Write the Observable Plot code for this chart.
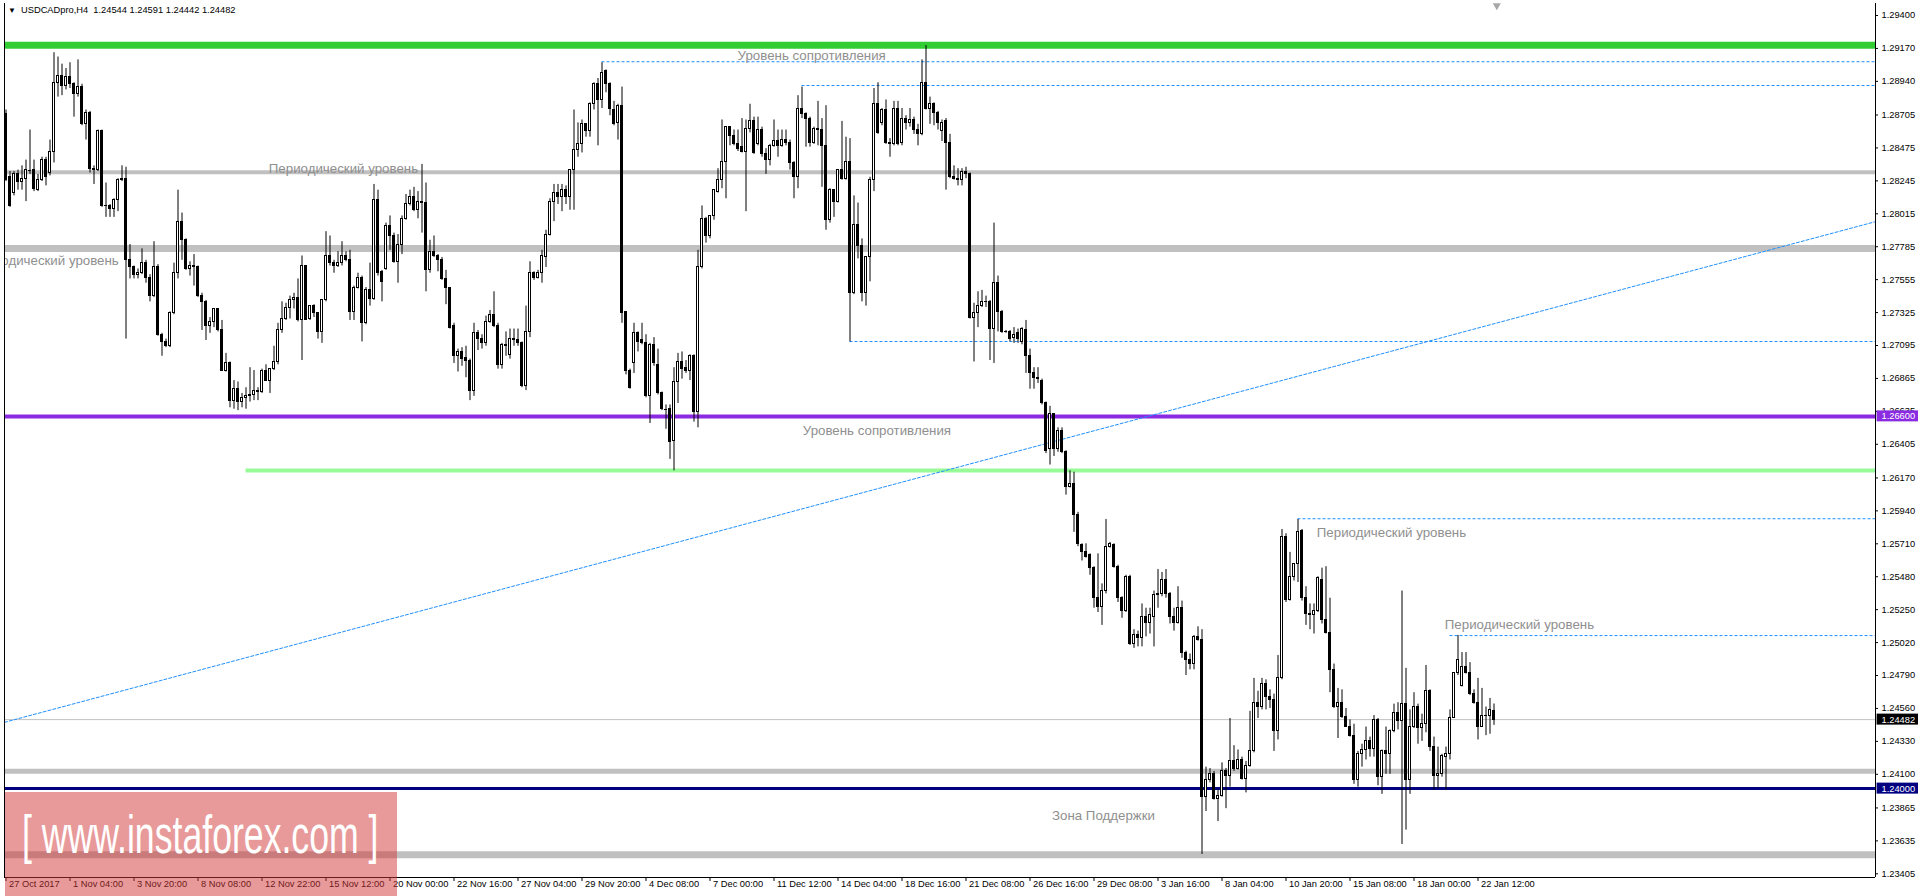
<!DOCTYPE html>
<html><head><meta charset="utf-8">
<script src="https://cdn.jsdelivr.net/npm/d3@7"></script>
<script src="https://cdn.jsdelivr.net/npm/@observablehq/plot@0.6"></script>
<style>
html,body{margin:0;padding:0;background:#fff;overflow:hidden;}
#wrap{position:relative;width:1920px;height:896px;}
#chart svg{display:block;}
#hdr{position:absolute;left:8px;top:4px;font-family:"Liberation Sans",Arial,sans-serif;font-size:9.3px;line-height:12px;color:#000;white-space:pre;}
#hdr .tri{display:inline-block;font-size:8px;width:13px;}
#wm{position:absolute;left:5px;top:792px;width:392px;height:104px;background:rgba(209,53,53,0.5);color:#fff;font-family:"Liberation Sans",Arial,sans-serif;overflow:hidden;}
#wm .t{position:absolute;left:17px;top:12px;font-size:54px;line-height:60px;white-space:pre;transform-origin:0 0;transform:scaleX(0.66);}
</style></head>
<body>
<div id="wrap">
  <div id="chart"></div>
  <div id="hdr"><span class="tri">▼</span>USDCADpro,H4  1.24544 1.24591 1.24442 1.24482</div>
  <div id="wm"><div class="t">[ www.instaforex.com ]</div></div>
</div>
<script>
// ---- DATA (H4 candles, values in pips above 1.2000) ----
const PIP_BASE = 1.2;
const openPips = [
871,827,816,829,824,826,832,832,818,825, 839,830,845,893,898,891,897,892,885,890,
864,872,833,832,859,807,807,805,811,825, 826,769,764,759,760,767,757,744,764,717,
712,709,732,760,796,783,763,765,764,744, 740,723,726,735,720,692,697,671,679,670,
673,674,675,678,677,692,685,693,698,720, 728,736,741,743,727,765,728,737,732,719,
741,772,767,765,767,772,769,733,750,757, 725,748,742,811,761,763,793,786,768,780,
798,808,813,804,810,809,762,775,772,769, 756,750,723,702,705,701,699,678,718,714,
711,726,731,723,696,710,703,714,713,711, 681,719,760,757,760,771,787,810,816,813,
818,813,832,846,850,864,859,878,892,881, 901,892,874,865,877,733,692,697,718,713,
711,674,710,696,676,665,665,643,684,698, 694,692,702,663,764,798,786,800,817,825,
838,862,856,850,848,845,861,866,850,860, 843,839,849,852,849,853,851,837,827,875,
871,868,851,861,860,849,797,818,810,832, 826,838,746,794,779,746,771,825,878,865,
874,851,850,875,851,868,865,867,860,857, 893,875,878,872,859,866,851,827,826,825,
831,829,729,732,737,740,740,721,753,733, 719,719,715,718,712,720,702,690,687,685,
669,637,662,637,650,635,611,613,591,570, 565,563,554,533,527,538,569,570,555,533,
524,548,501,507,505,520,516,520,535,536, 546,536,520,516,526,495,490,487,506,504,
394,406,410,393,395,412,409,419,414,420, 407,416,426,460,457,473,464,462,440,477,
576,532,548,557,580,533,522,521,524,546, 518,509,483,457,460,450,443,437,406,424,
427,433,428,448,408,426,424,440,453,447, 459,406,443,457,442,445,468,429,409,410,
422,424,449,481,472,485,481,466,460,443, 451,451,454.4];
const highPips = [
874,831,831,832,835,839,860,839,829,841, 841,853,914,911,906,903,907,893,909,892,
874,873,835,860,860,823,808,812,826,835, 834,780,765,763,777,769,759,782,766,718,
714,733,767,818,802,784,768,773,765,746, 741,729,735,735,727,704,698,685,684,676,
680,694,692,680,693,696,693,709,725,740, 739,744,746,756,772,765,737,738,732,741,
789,786,769,775,782,775,776,751,760,758, 750,767,822,818,762,795,800,788,787,800,
815,818,820,817,836,823,783,786,773,771, 762,750,725,707,708,709,700,725,720,717,
730,734,747,725,711,719,721,721,721,712, 737,768,761,762,776,790,812,822,822,822,
821,832,874,865,867,864,879,893,896,907, 902,893,880,878,890,733,693,725,719,725,
717,711,715,707,677,668,668,694,704,705, 699,703,703,776,807,799,800,818,833,867,
862,862,860,860,868,867,878,869,869,862, 847,850,867,860,860,860,853,838,884,890,
872,869,862,880,868,877,819,818,832,866, 855,854,814,809,784,771,827,889,893,875,
881,854,880,880,875,870,875,869,864,909, 919,883,879,873,867,868,857,835,833,833,
834,830,739,747,748,744,741,795,758,734, 720,720,722,721,722,727,707,694,694,686,
670,667,662,652,652,636,622,621,593,571, 571,564,555,564,543,588,572,571,556,534,
549,549,511,510,529,526,526,538,553,551, 553,537,526,541,531,496,494,507,513,511,
415,414,412,399,418,414,449,430,427,422, 419,454,477,468,477,476,469,466,493,581,
578,565,557,588,581,541,529,529,548,554, 555,533,487,470,469,456,448,445,426,431,
443,436,451,449,427,443,441,459,460,538, 484,455,467,459,452,486,469,436,429,424,
429,455,481,507,495,495,488,469,477,470, 457,463,459.1];
const lowPips = [
824,806,814,818,818,810,829,817,817,824, 821,828,837,883,884,888,889,869,883,863,
853,830,822,831,806,799,799,799,803,824, 714,756,756,756,759,753,740,743,716,702,
708,708,731,756,769,762,758,751,743,720, 713,718,722,719,692,691,666,665,664,666,
665,670,671,671,676,685,676,692,696,718, 727,728,735,726,699,727,727,729,714,711,
740,765,760,764,765,768,727,727,749,712, 724,737,741,758,740,762,776,767,753,773,
797,807,803,798,788,747,760,771,761,755, 738,721,697,691,695,687,671,674,706,707,
709,725,722,693,693,702,700,709,709,680, 678,715,755,756,753,764,786,796,808,803,
808,804,804,841,844,855,855,874,849,875, 886,870,863,853,725,689,679,690,705,710,
673,655,695,675,664,651,630,622,669,686, 690,685,656,652,763,781,784,797,816,819,
812,849,849,845,844,803,858,843,849,841, 829,835,848,841,848,849,832,812,819,868,
848,848,850,849,820,790,795,799,809,825, 825,712,745,770,740,737,754,817,857,863,
850,841,849,849,849,860,862,857,849,856, 874,864,863,860,852,818,826,825,821,821,
826,728,698,722,736,736,699,697,719,718, 718,712,711,711,710,690,679,679,683,668,
634,626,632,635,634,605,610,579,569,559, 561,549,526,523,514,536,568,554,530,519,
523,500,498,499,499,506,508,499,526,534, 533,515,510,515,491,479,483,483,503,354,
384,404,392,377,394,386,401,412,413,406, 397,415,425,449,455,455,456,426,434,476,
530,531,545,544,531,514,511,508,523,515, 508,467,456,435,449,443,436,403,401,415,
420,422,422,402,396,410,410,439,441,361, 371,396,442,431,433,439,426,399,400,408,
399,420,449,479,471,480,465,459,434,443, 437,438,444.2];
const closePips = [
825,807,829,824,826,832,832,819,825,839, 827,845,893,898,891,897,892,885,890,864,
872,833,832,859,807,807,805,811,825,826, 769,764,759,760,767,757,744,764,717,712,
709,732,760,796,783,763,765,764,744,740, 723,726,735,720,692,697,671,679,670,673,
674,675,678,677,692,685,693,698,720,728, 736,741,743,727,765,727,737,732,719,741,
772,767,765,767,772,769,733,750,757,725, 748,742,811,760,754,793,786,768,780,798,
808,813,804,810,809,762,775,772,769,756, 750,722,702,705,700,699,678,718,714,711,
726,731,723,696,710,709,714,713,711,681, 719,760,757,760,772,787,810,816,813,818,
813,832,846,850,864,859,878,892,881,900, 892,875,864,877,732,692,680,718,712,711,
674,710,697,676,665,665,642,684,698,693, 692,702,663,764,798,786,800,818,825,838,
862,856,850,847,845,861,866,844,860,843, 839,849,852,849,853,851,837,827,875,871,
868,851,861,860,849,797,818,810,832,826, 838,746,794,779,746,771,825,878,858,874,
851,850,875,850,868,865,867,860,857,893, 875,878,872,865,865,851,827,826,825,831,
829,729,732,737,740,740,721,753,733,719, 719,714,717,714,721,702,690,687,686,669,
636,662,637,650,635,611,613,591,571,565, 562,554,533,527,538,569,571,555,533,524,
548,501,507,505,520,516,521,535,536,546, 536,520,516,526,495,490,487,506,504,394,
406,410,393,395,412,409,419,414,420,407, 416,426,460,457,473,464,462,440,477,576,
532,548,557,579,533,522,521,524,547,518, 509,483,457,460,450,443,437,406,424,427,
433,428,448,408,426,424,440,453,447,459, 406,443,457,442,445,468,429,409,410,423,
424,449,481,490,485,481,466,460,443,451, 451,455,448.2];

// Right-axis price ticks and bottom time labels (one label every 16 bars)
const priceTicks = [1.29400,1.29170,1.28940,1.28705,1.28475,1.28245,1.28015,1.27785,1.27555,1.27325,
  1.27095,1.26865,1.26635,1.26405,1.26170,1.25940,1.25710,1.25480,1.25250,1.25020,1.24790,1.24560,
  1.24330,1.24100,1.23865,1.23635,1.23405];
const timeLabels = ["27 Oct 2017","1 Nov 04:00","3 Nov 20:00","8 Nov 08:00","12 Nov 22:00","15 Nov 12:00",
  "20 Nov 00:00","22 Nov 16:00","27 Nov 04:00","29 Nov 20:00","4 Dec 08:00","7 Dec 00:00","11 Dec 12:00",
  "14 Dec 04:00","18 Dec 16:00","21 Dec 08:00","26 Dec 16:00","29 Dec 08:00","3 Jan 16:00","8 Jan 04:00",
  "10 Jan 20:00","15 Jan 08:00","18 Jan 00:00","22 Jan 12:00"];
const barsPerLabel = 16;

// Horizontal levels (prices)
const greenLevel = 1.29193, grayLevelA = 1.28306, grayLevelB = 1.27773, purpleLevel = 1.26600,
      lightGreenLevel = 1.26222, grayLevelC = 1.24121, navyLevel = 1.24000, grayLevelD = 1.23538;
const lightGreenStartBar = 60;
const currentPrice = 1.24482;
// Dotted blue levels: price and starting bar
const dottedLevelPrices = [1.29077, 1.28911, 1.27123, 1.25885, 1.25069];
const dottedLevelStartBars = [149, 199, 211, 323, 361];
// Dotted trend line: two anchor points (bar index, price)
const trendBars = [-0.375, 467.375];
const trendPrices = [1.24463, 1.27960];
// Text annotations (left-aligned at bar/price)
const noteTexts = ["Уровень сопротивления","Периодический уровень",
  "Уровень сопротивления","Периодический уровень","Периодический уровень","Зона Поддержки"];
const noteBars = [182.9, 65.7, 199.2, 327.7, 359.7, 261.5];
const notePrices = [1.29121, 1.28331, 1.26501, 1.25784, 1.25146, 1.23812];
// Annotation cut by the left edge (right-aligned)
const edgeNoteText = "Периодический уровень";
const edgeNoteBar = 28.2, edgeNotePrice = 1.27689;

// ---- BUILD ----
const px = v => PIP_BASE + v / 10000;
const bars = openPips.map((o, i) => {
  const O = px(o), C = px(closePips[i]);
  return {i, o: O, c: C, h: Math.max(px(highPips[i]), O, C), l: Math.min(px(lowPips[i]), O, C)};
});
const up = bars.filter(d => d.c > d.o);
const down = bars.filter(d => d.c < d.o);
const flat = bars.filter(d => Math.abs(d.c - d.o) < 0.00008);

const xDomain = [-0.375, 467.375];
const yDomain = [1.233792, 1.294838];
const xEnd = xDomain[1], xStart = xDomain[0];
const font = "Liberation Sans, Arial, sans-serif";

const band = (p, color, w, from = xStart) =>
  Plot.ruleY([p], {y: d => d, x1: from, x2: xEnd, stroke: color, strokeWidth: w});

const notes = noteTexts.map((t, k) => ({t, x: noteBars[k], y: notePrices[k]}));
const edgeNote = [{t: edgeNoteText, x: edgeNoteBar, y: edgeNotePrice}];
const dotted = dottedLevelPrices.map((p, k) => ({p, s: dottedLevelStartBars[k]}));
const trend = trendBars.map((b, k) => ({x: b, y: trendPrices[k]}));
const timeTicks = timeLabels.map((t, k) => ({t, x: k * barsPerLabel}));
const boxes = [
  {p: purpleLevel, bg: "#8A2BE2"},
  {p: currentPrice, bg: "#000000"},
  {p: navyLevel, bg: "#000080"}
];
const noteStyle = {fill: "#8f8f8f", fontSize: 13.3, clip: true};

const chart = Plot.plot({
  width: 1920, height: 896,
  marginLeft: 4, marginRight: 45, marginTop: 3, marginBottom: 19,
  x: {domain: xDomain, axis: null},
  y: {domain: yDomain, axis: null},
  style: {background: "#ffffff", fontFamily: font, overflow: "visible"},
  marks: [
    // levels
    band(greenLevel, "#32CD32", 7),
    band(grayLevelA, "#C0C0C0", 4),
    band(grayLevelB, "#C0C0C0", 7),
    band(grayLevelC, "#C0C0C0", 5),
    band(grayLevelD, "#C0C0C0", 7),
    band(lightGreenLevel, "#98FB98", 4, lightGreenStartBar),
    band(currentPrice, "#C0C0C0", 1),
    band(purpleLevel, "#8A2BE2", 4),
    band(navyLevel, "#000080", 3),
    Plot.ruleY(dotted, {y: "p", x1: "s", x2: xEnd, stroke: "#1E90FF", strokeWidth: 1, strokeDasharray: "3,2"}),
    Plot.line(trend, {x: "x", y: "y", stroke: "#1E90FF", strokeWidth: 1, strokeDasharray: "3,2", clip: true}),
    // candles
    Plot.ruleX(bars, {x: "i", y1: "l", y2: "h", stroke: "#000", strokeWidth: 1}),
    Plot.rect(down, {x1: d => d.i - 0.25, x2: d => d.i + 0.25, y1: "o", y2: "c", fill: "#000", stroke: "#000", strokeWidth: 1, shapeRendering: "crispEdges"}),
    Plot.rect(up, {x1: d => d.i - 0.25, x2: d => d.i + 0.25, y1: "o", y2: "c", fill: "#fff", stroke: "#000", strokeWidth: 1, shapeRendering: "crispEdges"}),
    Plot.ruleY(flat, {y: "c", x1: d => d.i - 0.375, x2: d => d.i + 0.375, stroke: "#000", strokeWidth: 1, shapeRendering: "crispEdges"}),
    // annotations
    Plot.text(notes, {x: "x", y: "y", text: "t", textAnchor: "start", ...noteStyle}),
    Plot.text(edgeNote, {x: "x", y: "y", text: "t", textAnchor: "end", ...noteStyle}),
    // frame
    Plot.ruleX([xStart], {x: d => d, stroke: "#000", strokeWidth: 1}),
    Plot.ruleX([xEnd], {x: d => d, stroke: "#000", strokeWidth: 1}),
    Plot.ruleY([yDomain[0]], {y: d => d, stroke: "#000", strokeWidth: 1}),
    // right axis
    Plot.ruleY(priceTicks, {y: d => d, x1: xEnd, x2: xEnd + 0.75, stroke: "#000"}),
    Plot.text(priceTicks, {x: xEnd, y: d => d, text: d => d.toFixed(5), dx: 6, textAnchor: "start", fontSize: 9.3, fill: "#000"}),
    Plot.rect(boxes, {x1: xEnd + 0.4, x2: xEnd + 10.75, y1: "p", y2: "p", insetTop: -5.5, insetBottom: -5.5, fill: "bg"}),
    Plot.text(boxes, {x: xEnd, y: "p", text: d => d.p.toFixed(5), dx: 6, textAnchor: "start", fontSize: 9.3, fill: "#fff"}),
    // bottom axis
    Plot.ruleX(timeTicks, {x: "x", y1: yDomain[0], y2: yDomain[0], insetBottom: -4, stroke: "#000"}),
    Plot.text(timeTicks, {x: "x", frameAnchor: "bottom", text: "t", dx: 3, dy: 9, textAnchor: "start", fontSize: 9.3, fill: "#000"}),
    // chart shift marker
    Plot.dot([372.7], {x: d => d, frameAnchor: "top", symbol: "triangle", r: 3, fill: "#a8a8a8", rotate: 180, dy: 2})
  ]
});
document.getElementById("chart").appendChild(chart);
</script>
</body></html>
